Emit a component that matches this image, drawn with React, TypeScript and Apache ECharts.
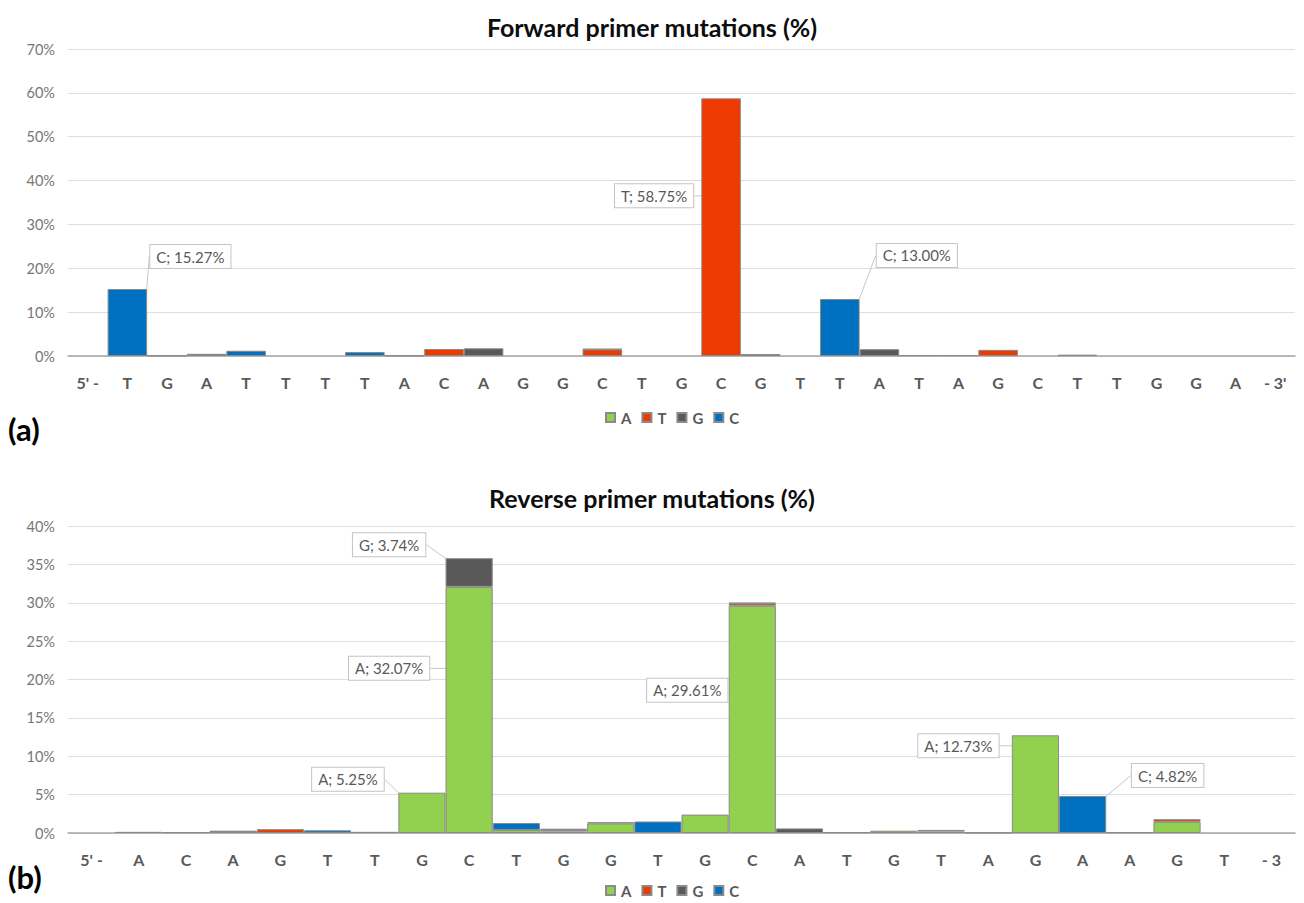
import React, { useEffect, useRef } from "react";
import * as echarts from "echarts";

// Forward primer 5'->3' positions
const fwdCategories = [
  "5' -", "T", "G", "A", "T", "T", "T", "T", "A", "C", "A", "G", "G", "C", "T", "G",
  "C", "G", "T", "T", "A", "T", "A", "G", "C", "T", "T", "G", "G", "A", "- 3'",
];
// Mutation percentages per substituted base (forward primer)
const fwdA = [0, 0, 0, 0, 0, 0, 0, 0, 0, 0, 0, 0, 0, 0, 0, 0, 0, 0.45, 0, 0, 0, 0, 0, 0, 0, 0, 0, 0, 0, 0, 0];
const fwdT = [0, 0, 0, 0, 0, 0, 0, 0, 0, 1.6, 0, 0, 0, 1.5, 0, 0, 58.75, 0, 0, 0, 0, 0, 0, 1.4, 0, 0, 0, 0, 0, 0, 0];
const fwdG = [0, 0, 0.1, 0.5, 0, 0, 0, 0, 0.1, 0, 1.75, 0, 0, 0.1, 0, 0, 0, 0, 0, 0, 1.55, 0.2, 0.2, 0, 0, 0.3, 0, 0, 0, 0, 0];
const fwdC = [0, 15.27, 0, 0, 1.2, 0, 0, 0.9, 0, 0, 0, 0, 0, 0, 0, 0, 0, 0, 0, 13.0, 0, 0, 0, 0, 0, 0, 0, 0, 0, 0, 0];

// Reverse primer 5'->3' positions
const revCategories = [
  "5' -", "A", "C", "A", "G", "T", "T", "G", "C", "T", "G", "G", "T", "G", "C", "A",
  "T", "G", "T", "A", "G", "A", "A", "G", "T", "- 3",
];
// Mutation percentages per substituted base (reverse primer)
const revA = [0, 0, 0, 0, 0, 0, 0, 5.25, 32.07, 0.4, 0.2, 1.25, 0, 2.4, 29.61, 0, 0, 0.3, 0, 0, 12.73, 0, 0, 1.45, 0, 0];
const revT = [0, 0, 0.1, 0, 0.5, 0, 0, 0, 0, 0, 0.2, 0.15, 0, 0, 0.3, 0, 0, 0, 0, 0, 0, 0, 0, 0.35, 0, 0];
const revG = [0, 0.15, 0, 0.3, 0, 0, 0.15, 0, 3.74, 0, 0.15, 0, 0, 0, 0.08, 0.6, 0.1, 0, 0.2, 0.05, 0, 0, 0.1, 0, 0, 0];
const revC = [0, 0, 0, 0, 0, 0.35, 0, 0, 0, 0.9, 0, 0, 1.5, 0, 0, 0, 0, 0, 0.2, 0, 0, 4.82, 0, 0, 0, 0];

const fwdTicks = { max: 70, interval: 10 };
const revTicks = { max: 40, interval: 5 };

const BASES = ["A", "T", "G", "C"];
const COLORS: Record<string, string> = { A: "#92d050", T: "#ee3a00", G: "#595959", C: "#0070c0" };

// Callout placements (label offset from its default "top" anchor), keyed by base then category index
const fwdCallouts: Record<string, Record<number, [number, number]>> = {
  C: { 1: [63, -16], 19: [77, -27] },
  T: { 16: [-67, 114] },
};
const revCallouts: Record<string, Record<number, [number, number]>> = {
  A: { 7: [-74, 3], 8: [-80, 98], 14: [-65, 101], 20: [-77, 27] },
  G: { 8: [-80, 3] },
  C: { 21: [85, -4] },
};

const FONT = "Lato, 'Open Sans', sans-serif";
const GREY_TEXT = "#595959";

function buildSeries(
  values: number[][],
  axisIndex: number,
  stack: string,
  callouts: Record<string, Record<number, [number, number]>>
) {
  return BASES.map((base, bi) => {
    const marks = callouts[base] || {};
    return {
      name: base,
      type: "bar",
      stack,
      xAxisIndex: axisIndex,
      yAxisIndex: axisIndex,
      barCategoryGap: "0%",
      itemStyle: { color: COLORS[base], borderColor: "#8a8a8a", borderWidth: 1 },
      label: {
        show: false,
        position: "top",
        formatter: (p: any) => `${p.seriesName}; ${Number(p.value).toFixed(2)}%`,
        fontFamily: FONT,
        fontSize: 15,
        color: GREY_TEXT,
        backgroundColor: "#ffffff",
        borderColor: "#c4c4c4",
        borderWidth: 1,
        padding: [4, 6],
      },
      labelLine: { show: true, lineStyle: { color: "#c8c8c8", width: 1 } },
      labelLayout: (p: any) => {
        const o = marks[p.dataIndex];
        return o ? { dx: o[0], dy: o[1] } : {};
      },
      data: values[bi].map((v, i) =>
        v === 0 ? "-" : marks[i] ? { value: v, label: { show: true } } : v
      ),
    };
  });
}

function xAxis(cats: string[], gridIndex: number) {
  return {
    type: "category",
    gridIndex,
    data: cats,
    axisTick: { show: false },
    axisLine: { lineStyle: { color: "#a6a6a6", width: 1.5 } },
    axisLabel: {
      interval: 0,
      margin: 18,
      fontFamily: FONT,
      fontWeight: "bold",
      fontSize: 16,
      color: GREY_TEXT,
    },
  };
}

function yAxis(ticks: { max: number; interval: number }, gridIndex: number) {
  return {
    type: "value",
    gridIndex,
    min: 0,
    max: ticks.max,
    interval: ticks.interval,
    axisLine: { show: false },
    axisTick: { show: false },
    splitLine: { lineStyle: { color: "#dedede", width: 1.2 } },
    axisLabel: {
      formatter: "{value}%",
      margin: 13,
      fontFamily: FONT,
      fontSize: 14.5,
      color: "#767676",
    },
  };
}

function legend(top: number) {
  return {
    top,
    left: 600,
    data: BASES,
    icon: "rect",
    itemWidth: 9,
    itemHeight: 9,
    itemGap: 10,
    selectedMode: false,
    textStyle: { fontFamily: FONT, fontWeight: "bold", fontSize: 15, color: GREY_TEXT, padding: [0, 0, 0, 1] },
  };
}

export default function App() {
  const ref = useRef<HTMLDivElement>(null);

  useEffect(() => {
    if (!ref.current) return;
    const chart = echarts.init(ref.current, null, { renderer: "svg" });
    chart.setOption({
      animation: false,
      backgroundColor: "#ffffff",
      title: [
        {
          text: "Forward primer mutations (%)",
          left: "center",
          top: 9,
          textStyle: { fontFamily: FONT, fontWeight: "bold", fontSize: 25, color: "#0d0d0d" },
        },
        {
          text: "Reverse primer mutations (%)",
          left: "center",
          top: 480,
          textStyle: { fontFamily: FONT, fontWeight: "bold", fontSize: 25, color: "#0d0d0d" },
        },
      ],
      legend: [legend(405), legend(878)],
      grid: [
        { left: 68, right: 9, top: 49, height: 307 },
        { left: 68, right: 9, top: 526, height: 307 },
      ],
      xAxis: [xAxis(fwdCategories, 0), xAxis(revCategories, 1)],
      yAxis: [yAxis(fwdTicks, 0), yAxis(revTicks, 1)],
      series: [
        ...buildSeries([fwdA, fwdT, fwdG, fwdC], 0, "fwd", fwdCallouts),
        ...buildSeries([revA, revT, revG, revC], 1, "rev", revCallouts),
      ],
      graphic: [
        {
          type: "text",
          left: 8,
          top: 413,
          style: { text: "(a)", fontFamily: FONT, fontWeight: "bold", fontSize: 31, fill: "#000000" },
        },
        {
          type: "text",
          left: 8,
          top: 861,
          style: { text: "(b)", fontFamily: FONT, fontWeight: "bold", fontSize: 31, fill: "#000000" },
        },
      ],
    });
    return () => chart.dispose();
  }, []);

  return (
    <div
      ref={ref}
      style={{ position: "absolute", left: 0, top: 0, width: 1304, height: 903, background: "#fff" }}
    />
  );
}
